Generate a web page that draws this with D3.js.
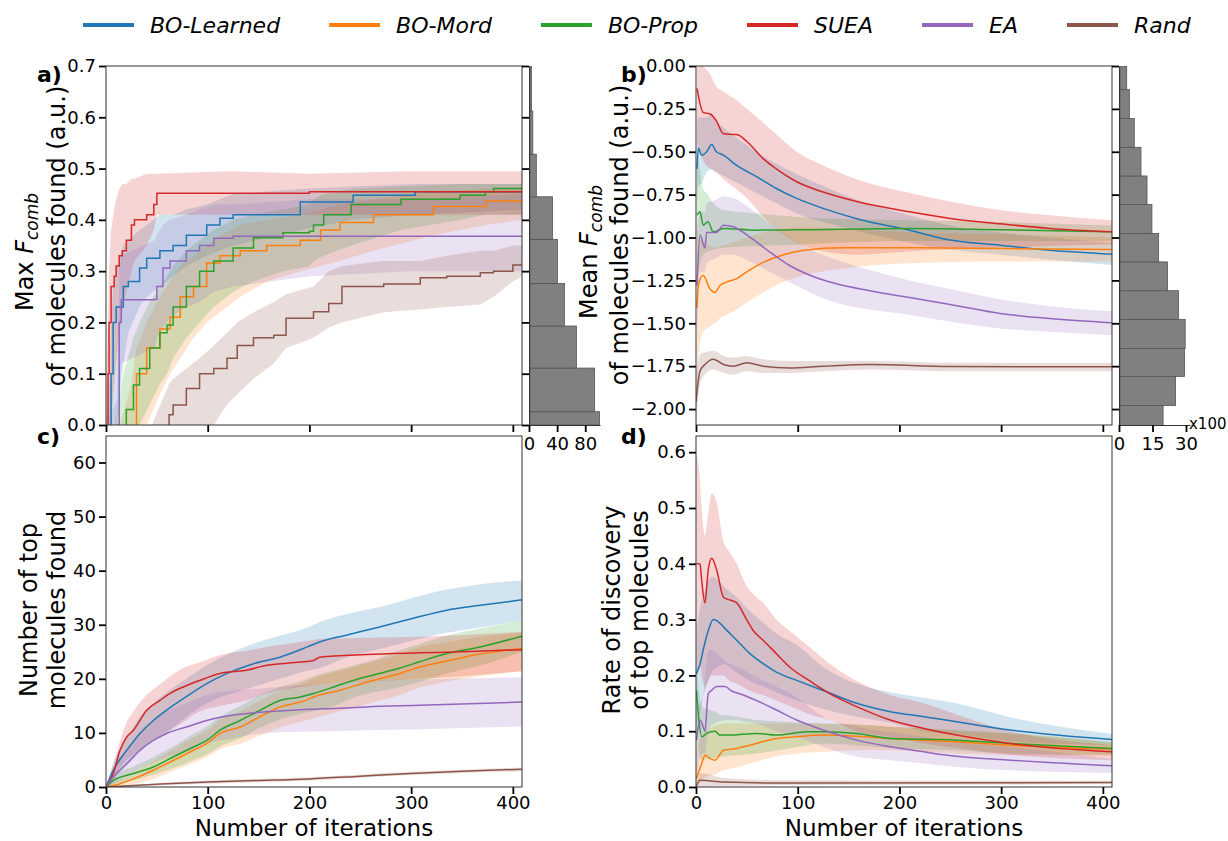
<!DOCTYPE html>
<html>
<head>
<meta charset="utf-8">
<script src="https://cdn.jsdelivr.net/npm/d3@7"></script>
<style>
  body { margin: 0; background: #fff; }
  svg text { font-family: "DejaVu Sans", sans-serif; fill: #000; }
</style>
</head>
<body>
<svg id="chart" width="1228" height="841"></svg>
<script>
// methods and colours (matplotlib tab10)
const methods = ["BO-Learned", "BO-Mord", "BO-Prop", "SUEA", "EA", "Rand"];
const colors = ["#1f77b4", "#ff7f0e", "#2ca02c", "#d62728", "#9467bd", "#8c564b"];

// tick labels
const iterTicks = [0, 100, 200, 300, 400];
const maxTicks = [0, 0.1, 0.2, 0.3, 0.4, 0.5, 0.6, 0.7];
const meanTicks = [0, -0.25, -0.5, -0.75, -1, -1.25, -1.5, -1.75, -2];
const topTicks = [0, 10, 20, 30, 40, 50, 60];
const rateTicks = [0, 0.1, 0.2, 0.3, 0.4, 0.5, 0.6];
const histATicks = [0, 40, 80];
const histBTicks = [0, 15, 30];

// rows: [iteration, mean, lower, upper]
// a) Max F_comb of molecules found
const maxBOLearned = [[0,-0.1,-0.3,0],[4,-0.02,-0.2,0.1],[5,0.1,-0.1,0.2],[7,0.2,-0.05,0.27],[10,0.23,0,0.3],[17,0.27,0.12,0.35],[22,0.28,0.18,0.36],[33,0.306,0.23,0.38],[40,0.325,0.25,0.39],[53,0.34,0.27,0.41],[66,0.35,0.29,0.41],[79,0.37,0.31,0.42],[99,0.39,0.33,0.43],[112,0.403,0.34,0.44],[125,0.41,0.35,0.45],[191,0.435,0.38,0.46],[243,0.448,0.4,0.465],[304,0.455,0.41,0.47],[409,0.455,0.42,0.47]];
const maxBOMord = [[0,-0.3,-0.5,-0.1],[25,-0.01,-0.15,0.08],[30,0.1,-0.05,0.15],[40,0.15,0,0.2],[53,0.187,0.06,0.25],[63,0.21,0.1,0.28],[73,0.25,0.13,0.31],[86,0.27,0.17,0.33],[99,0.316,0.2,0.35],[112,0.33,0.22,0.37],[132,0.34,0.25,0.39],[158,0.35,0.28,0.4],[191,0.36,0.3,0.41],[211,0.38,0.31,0.42],[230,0.395,0.32,0.43],[263,0.41,0.34,0.44],[322,0.426,0.37,0.455],[374,0.437,0.39,0.46],[409,0.437,0.4,0.46]];
const maxBOProp = [[0,-0.3,-0.5,-0.1],[17,-0.01,-0.2,0.1],[20,0.03,-0.1,0.12],[27,0.078,-0.05,0.17],[33,0.11,0,0.2],[43,0.15,0.04,0.24],[53,0.18,0.08,0.27],[60,0.195,0.1,0.29],[66,0.23,0.13,0.31],[79,0.27,0.17,0.34],[92,0.3,0.2,0.36],[106,0.32,0.23,0.38],[125,0.345,0.26,0.4],[145,0.365,0.28,0.41],[174,0.375,0.3,0.42],[200,0.378,0.31,0.43],[204,0.39,0.32,0.44],[214,0.41,0.33,0.45],[241,0.43,0.35,0.46],[290,0.44,0.38,0.465],[348,0.448,0.4,0.47],[373,0.455,0.41,0.47],[381,0.461,0.41,0.47],[409,0.461,0.41,0.47]];
const maxSUEA = [[0,-0.05,-0.3,0.05],[2,0.1,-0.2,0.22],[3,0.2,-0.1,0.3],[5,0.27,0,0.38],[8,0.29,0.08,0.42],[10,0.31,0.12,0.44],[13,0.33,0.18,0.46],[16,0.34,0.22,0.47],[20,0.36,0.26,0.47],[25,0.39,0.3,0.48],[28,0.4,0.32,0.48],[40,0.41,0.35,0.49],[47,0.43,0.38,0.49],[50,0.452,0.41,0.49],[120,0.452,0.41,0.495],[200,0.455,0.41,0.49],[300,0.455,0.41,0.495],[409,0.455,0.41,0.495]];
const maxEA = [[0,-0.2,-0.4,0],[11,-0.02,-0.2,0.05],[13,0.2,0.05,0.3],[15,0.244,0.12,0.33],[48,0.245,0.15,0.36],[50,0.27,0.17,0.37],[56,0.306,0.19,0.39],[63,0.32,0.21,0.4],[79,0.34,0.23,0.41],[92,0.35,0.24,0.42],[106,0.364,0.26,0.43],[125,0.368,0.27,0.43],[200,0.368,0.29,0.44],[300,0.368,0.3,0.44],[409,0.368,0.3,0.45]];
const maxRand = [[0,-0.5,-0.7,-0.3],[45,-0.1,-0.3,0],[60,-0.01,-0.15,0.07],[62,0.02,-0.12,0.08],[66,0.039,-0.1,0.09],[79,0.071,-0.05,0.11],[92,0.1,-0.02,0.13],[106,0.11,0,0.155],[119,0.13,0.04,0.18],[129,0.155,0.06,0.2],[145,0.17,0.09,0.22],[165,0.175,0.12,0.24],[177,0.208,0.15,0.255],[204,0.221,0.17,0.27],[219,0.237,0.19,0.3],[232,0.27,0.2,0.31],[273,0.275,0.22,0.32],[309,0.287,0.225,0.32],[335,0.29,0.23,0.33],[368,0.297,0.235,0.34],[381,0.3,0.25,0.34],[400,0.312,0.28,0.35],[409,0.315,0.29,0.35]];

// b) Mean F_comb of molecules found
const meanBOLearned = [[1,-0.6,-0.8,-0.35],[2.3,-0.48,-0.7,-0.3],[5.6,-0.52,-0.68,-0.3],[10.5,-0.5,-0.62,-0.3],[15.4,-0.457,-0.6,-0.28],[20,-0.5,-0.62,-0.32],[27,-0.52,-0.64,-0.36],[40,-0.58,-0.68,-0.42],[59.5,-0.645,-0.74,-0.5],[79,-0.714,-0.8,-0.57],[99,-0.772,-0.86,-0.63],[125,-0.83,-0.91,-0.7],[158,-0.89,-0.96,-0.78],[210,-0.957,-1.03,-0.87],[250,-1.015,-1.07,-0.93],[299,-1.045,-1.1,-0.97],[348,-1.074,-1.13,-1],[409,-1.097,-1.16,-1.03]];
const meanBOMord = [[1,-1.41,-2,-0.95],[2.3,-1.28,-1.7,-1],[7,-1.22,-1.55,-1.02],[13.8,-1.3,-1.52,-1.05],[18.7,-1.32,-1.5,-1.06],[23.6,-1.28,-1.47,-1.05],[30,-1.26,-1.45,-1.04],[40,-1.24,-1.42,-1.02],[49.8,-1.2,-1.38,-1],[66,-1.145,-1.32,-0.97],[86,-1.1,-1.26,-0.95],[106,-1.074,-1.22,-0.94],[145,-1.06,-1.18,-0.95],[210,-1.06,-1.15,-0.97],[300,-1.064,-1.14,-0.98],[409,-1.07,-1.14,-1]];
const meanBOProp = [[1,-0.87,-1.25,-0.5],[3.9,-0.85,-1.15,-0.6],[7,-0.928,-1.1,-0.72],[11.8,-0.908,-1.08,-0.75],[17,-0.967,-1.07,-0.8],[27,-0.947,-1.06,-0.84],[59.5,-0.957,-1.05,-0.86],[100,-0.955,-1.04,-0.88],[210,-0.947,-1.02,-0.9],[300,-0.955,-1.02,-0.91],[409,-0.967,-1.02,-0.93]];
const meanSUEA = [[1,-0.13,-0.45,0.05],[7,-0.27,-0.55,0],[14,-0.28,-0.6,-0.05],[20,-0.32,-0.62,-0.12],[27,-0.395,-0.66,-0.15],[40,-0.4,-0.72,-0.2],[50,-0.44,-0.77,-0.25],[66,-0.54,-0.88,-0.33],[79,-0.6,-0.95,-0.4],[99,-0.675,-1.03,-0.5],[125,-0.735,-1.08,-0.58],[158,-0.79,-1.1,-0.66],[210,-0.85,-1.08,-0.74],[250,-0.889,-1.07,-0.79],[299,-0.92,-1.06,-0.84],[348,-0.947,-1.05,-0.87],[409,-0.967,-1.04,-0.9]];
const meanEA = [[1,-1.28,-1.6,-0.95],[3.9,-0.986,-1.2,-0.85],[8.8,-1.06,-1.2,-0.85],[10.5,-0.97,-1.15,-0.8],[20,-0.97,-1.12,-0.78],[27,-0.928,-1.1,-0.76],[36.7,-0.937,-1.1,-0.77],[53,-0.997,-1.14,-0.83],[72.7,-1.085,-1.2,-0.92],[92,-1.163,-1.26,-1],[112,-1.22,-1.32,-1.07],[138,-1.27,-1.38,-1.13],[171,-1.31,-1.42,-1.19],[210,-1.35,-1.45,-1.25],[250,-1.39,-1.49,-1.3],[299,-1.443,-1.53,-1.36],[348,-1.472,-1.55,-1.4],[409,-1.497,-1.57,-1.43]];
const meanRand = [[0,-1.957,-2.1,-1.8],[3.9,-1.78,-1.86,-1.68],[8.8,-1.74,-1.8,-1.67],[17,-1.709,-1.77,-1.66],[27,-1.74,-1.79,-1.69],[36.7,-1.75,-1.8,-1.7],[49.8,-1.73,-1.78,-1.69],[66,-1.75,-1.79,-1.71],[92,-1.76,-1.79,-1.72],[125,-1.75,-1.78,-1.72],[171,-1.74,-1.77,-1.72],[250,-1.752,-1.78,-1.73],[409,-1.754,-1.78,-1.73]];

// c) Number of top molecules found
const topBOLearned = [[0,0,0,0],[7.2,3.1,1.5,4.5],[20.4,6.8,4,9],[33.4,9.9,6.5,13],[46.5,12.3,8.5,15.5],[59.5,14.2,10,17.5],[79,16.7,13,20],[99,19.1,15.5,22.5],[119,21,17,24.5],[145,22.8,18.5,26.5],[171,24,20,28],[198,25.9,21.5,29.5],[210,26.8,22,30.5],[237,28.1,24,32],[269,29.6,25.5,33.3],[302,31.2,27.1,35],[335,32.7,28.5,36.5],[368,33.6,29.5,37.5],[409,34.6,30.8,38.2]];
const topBOMord = [[0,0,0,0],[13.8,0.6,0,1.5],[27,1.5,0.5,2.8],[46.5,3.1,1.5,4.8],[66,4.9,3,7],[86,6.8,4.5,9.2],[99,8,5.5,10.5],[112,9.9,7,12.5],[132,11.1,8,14],[151.6,13,9.5,16],[171,14.8,11,17.8],[191,15.7,12,19],[210,17,13,20.5],[230,17.9,14,21.5],[250,19,15,22.5],[269,20,16,23.5],[289,21,17,24.5],[302,21.8,18,25.5],[335,23.3,19.5,26.8],[368,24.6,20.5,27.8],[409,25.6,21.4,28.5]];
const topBOProp = [[0,0,0,0],[7.2,1.2,0.5,2],[27,2.5,1.2,3.8],[46.5,3.7,2.3,5.5],[66,5.55,3.5,7.5],[86,7.4,5,9.8],[99,8.6,6,11.2],[112,10.5,7.5,13],[132,12.3,9,15],[151.6,14.2,11,17],[171,16,12.5,18.5],[191,16.65,13.5,19.5],[204,17.3,14,20.5],[224,18.5,15,21.5],[243,19.7,16.5,22.5],[263,20.7,17.5,23.5],[289,22,18.5,25.3],[309,23.2,19.5,26.5],[335,24.7,21,28],[368,25.9,22.5,29.3],[409,27.9,25,30.8]];
const topSUEA = [[0,0,0,0],[7.2,2.5,1.2,4],[13.8,6.8,3.5,8.5],[20.4,9.25,5,12],[27,10.5,6,14],[40,14.2,8,17],[53,16,9.5,19],[63,17.3,10.5,20.5],[76,18.5,12,22],[92,19.7,14,23],[112,21,15,24.4],[138,21.6,16,25.2],[158,22.5,17.3,25.9],[191,23.1,18.5,26.8],[204,23.4,18.8,27.2],[210,24,19,27.4],[256,24.5,19.5,27.6],[309,24.8,20,27.8],[350,25,20.5,28.1],[409,25.4,21.4,28.7]];
const topEA = [[0,0,0,0],[7.2,1.85,0.5,3.5],[20.4,4.3,2,7],[33.4,6.8,3.5,10],[46.5,8.6,4.5,12.5],[59.5,9.9,5.5,14],[79,11.1,6.5,15.5],[99,12.3,8,17],[125,13.3,9,17.8],[158,13.9,10,18.3],[191,14.3,10.2,18.8],[224,14.5,10.3,19.2],[256,14.8,10.5,19.6],[309,15.1,10.7,19.9],[409,15.7,11.2,20.3]];
const topRand = [[0,0,0,0],[50,0.5,0.3,0.7],[100,0.93,0.6,1.2],[150,1.2,0.9,1.5],[200,1.5,1.2,1.8],[250,2,1.7,2.3],[300,2.5,2.2,2.8],[350,2.9,2.6,3.2],[409,3.3,2.9,3.6]];

// d) Rate of discovery of top molecules
const rateBOLearned = [[0.4,0.203,0.11,0.28],[3.9,0.22,0.13,0.32],[7,0.245,0.16,0.34],[12,0.28,0.19,0.37],[17,0.3,0.21,0.377],[22,0.296,0.215,0.37],[27,0.287,0.22,0.36],[40,0.263,0.205,0.34],[53,0.239,0.19,0.315],[66,0.221,0.18,0.295],[79,0.206,0.17,0.275],[99,0.191,0.155,0.255],[125,0.173,0.14,0.215],[158,0.15,0.126,0.185],[191,0.135,0.115,0.17],[224,0.126,0.1,0.16],[256,0.117,0.095,0.15],[309,0.102,0.082,0.125],[409,0.085,0.075,0.095]];
const rateBOMord = [[0.4,0.015,0,0.066],[5.6,0.042,0.01,0.09],[8.8,0.057,0.018,0.1],[13.8,0.051,0.02,0.105],[18.7,0.048,0.022,0.11],[27,0.066,0.03,0.114],[40,0.069,0.035,0.114],[53,0.075,0.042,0.114],[79,0.087,0.055,0.114],[99,0.09,0.06,0.114],[125,0.093,0.063,0.114],[158,0.091,0.066,0.112],[191,0.087,0.066,0.108],[224,0.084,0.063,0.105],[256,0.081,0.06,0.1],[309,0.075,0.057,0.096],[409,0.068,0.056,0.08]];
const rateBOProp = [[0.4,0.173,0.1,0.22],[2.3,0.13,0.07,0.18],[5.6,0.09,0.048,0.144],[10.5,0.096,0.05,0.14],[18.7,0.1,0.052,0.135],[23.6,0.093,0.054,0.13],[33.4,0.093,0.056,0.128],[59.5,0.096,0.06,0.12],[79,0.093,0.065,0.118],[109,0.099,0.075,0.115],[125,0.099,0.078,0.114],[158,0.096,0.075,0.112],[191,0.087,0.07,0.108],[256,0.084,0.066,0.102],[309,0.078,0.06,0.096],[409,0.069,0.058,0.08]];
const rateSUEA = [[0.4,0.4,0.2,0.6],[3.9,0.4,0.22,0.55],[5.6,0.37,0.2,0.5],[8.8,0.33,0.18,0.45],[12,0.389,0.19,0.49],[15.4,0.41,0.2,0.526],[20.3,0.389,0.2,0.51],[27,0.34,0.2,0.44],[33.4,0.335,0.19,0.42],[40,0.33,0.185,0.4],[49.8,0.3,0.175,0.36],[56.4,0.28,0.17,0.345],[66,0.263,0.165,0.33],[79,0.239,0.155,0.3],[92,0.215,0.145,0.28],[112,0.19,0.13,0.25],[132,0.167,0.12,0.22],[158,0.144,0.1,0.19],[191,0.12,0.09,0.165],[224,0.105,0.078,0.15],[256,0.093,0.07,0.13],[309,0.078,0.058,0.1],[409,0.063,0.048,0.075]];
const rateEA = [[0.4,0.084,0,0.1],[3.9,0.12,0.05,0.15],[7,0.108,0.06,0.16],[8.8,0.1,0.06,0.2],[12,0.167,0.1,0.245],[15.4,0.173,0.11,0.245],[20.3,0.18,0.115,0.24],[28.6,0.18,0.12,0.225],[35,0.172,0.12,0.22],[46.5,0.165,0.118,0.21],[59.5,0.155,0.114,0.197],[79,0.138,0.1,0.18],[99,0.12,0.09,0.161],[125,0.102,0.072,0.126],[158,0.084,0.054,0.108],[191,0.072,0.048,0.098],[224,0.063,0.042,0.09],[256,0.055,0.036,0.08],[309,0.048,0.03,0.072],[409,0.038,0.025,0.05]];
const rateRand = [[0,0,0,0],[3.9,0.012,0,0.025],[27,0.009,0.002,0.016],[92,0.007,0.003,0.012],[409,0.008,0.005,0.011]];

// marginal histograms
const histAEdges = [0, 0.026, 0.111, 0.193, 0.276, 0.362, 0.445, 0.528, 0.612, 0.699];
const histACounts = [99, 92, 66, 49, 39, 32, 9, 4, 2];
const histBEdges = [-2.097, -1.98, -1.81, -1.646, -1.477, -1.31, -1.142, -0.976, -0.808, -0.641, -0.474, -0.306, -0.137, 0];
const histBCountsX100 = [19.3, 24.9, 28.9, 29.2, 26.2, 21.3, 17.3, 14.3, 12.1, 9.4, 6.4, 4.2, 3.0];

const svg = d3.select("#chart");
const xMaxIter = 409;

function styleAxis(g, fontSize) {
  g.attr("font-family", "DejaVu Sans").attr("font-size", fontSize);
  g.selectAll(".tick line").attr("stroke", "#000").attr("stroke-width", 1.8);
  g.selectAll(".tick text").attr("fill", "#000");
}

function drawPanel(p) {
  const g = svg.append("g").attr("transform", "translate(" + p.left + "," + p.top + ")");
  const x = d3.scaleLinear().domain([0, xMaxIter]).range([0, p.width]);
  const y = d3.scaleLinear().domain(p.yDomain).range([p.height, 0]);

  g.append("clipPath").attr("id", "clip-" + p.key)
    .append("rect").attr("width", p.width).attr("height", p.height);
  const plot = g.append("g").attr("clip-path", "url(#clip-" + p.key + ")");

  const area = d3.area()
    .x(d => x(d[0])).y0(d => y(d[2])).y1(d => y(d[3]))
    .curve(p.bandCurve);
  const line = d3.line()
    .x(d => x(d[0])).y(d => y(d[1]))
    .curve(p.lineCurve);

  p.series.forEach((rows, i) => {
    plot.append("path").datum(rows)
      .attr("fill", colors[i]).attr("fill-opacity", 0.2)
      .attr("d", area);
  });
  p.series.forEach((rows, i) => {
    plot.append("path").datum(rows)
      .attr("fill", "none").attr("stroke", colors[i]).attr("stroke-width", 1.5)
      .attr("d", line);
  });

  const yAxis = d3.axisLeft(y).tickValues(p.yTicks).tickFormat(p.fmt)
    .tickSize(7).tickPadding(3);
  const gy = g.append("g").call(yAxis);
  gy.select(".domain").remove();
  styleAxis(gy, 18);

  const xAxis = d3.axisBottom(x).tickValues(iterTicks).tickSize(7).tickPadding(2);
  if (!p.xLabels) xAxis.tickFormat("");
  const gx = g.append("g").attr("transform", "translate(0," + p.height + ")").call(xAxis);
  gx.select(".domain").remove();
  styleAxis(gx, 18);

  g.append("rect").attr("width", p.width).attr("height", p.height)
    .attr("fill", "none").attr("stroke", "#333").attr("stroke-width", 1);

  if (p.xLabels) {
    g.append("text").attr("x", p.width / 2).attr("y", p.height + 48.5)
      .attr("text-anchor", "middle").attr("font-size", 23)
      .text("Number of iterations");
  }
  return { g, x, y };
}

function drawHist(p, y, left, edges, counts, xMax, ticks, offsetText) {
  const w = 71;
  const g = svg.append("g").attr("transform", "translate(" + left + "," + p.top + ")");
  const hx = d3.scaleLinear().domain([0, xMax]).range([0, w]);
  g.append("clipPath").attr("id", "hclip-" + p.key)
    .append("rect").attr("width", w + 10).attr("height", p.height);
  g.append("g").attr("clip-path", "url(#hclip-" + p.key + ")")
    .selectAll("rect").data(counts).join("rect")
    .attr("x", hx(0) + 1)
    .attr("y", (c, i) => y(edges[i + 1]))
    .attr("width", c => hx(c))
    .attr("height", (c, i) => y(edges[i]) - y(edges[i + 1]))
    .attr("fill", "#808080").attr("stroke", "#555").attr("stroke-width", 0.8);

  const gy = g.append("g")
    .call(d3.axisLeft(y).tickValues(p.yTicks).tickFormat("").tickSize(7).tickSizeOuter(0));
  gy.select(".domain").attr("stroke", "#333");
  styleAxis(gy, 18);

  const gx = g.append("g").attr("transform", "translate(0," + p.height + ")")
    .call(d3.axisBottom(hx).tickValues(ticks).tickSize(7).tickSizeOuter(0).tickPadding(5));
  gx.select(".domain").attr("stroke", "#333");
  styleAxis(gx, 18);

  if (offsetText) {
    g.append("text").attr("x", hx(30) + 3).attr("y", p.height + 4)
      .attr("font-size", 15).text(offsetText);
  }
}

const panelA = {
  key: "a", left: 106, top: 66, width: 416, height: 359,
  yDomain: [0, 0.7], yTicks: maxTicks, fmt: d3.format(".1f"),
  series: [maxBOLearned, maxBOMord, maxBOProp, maxSUEA, maxEA, maxRand],
  lineCurve: d3.curveStepAfter, bandCurve: d3.curveLinear, xLabels: false
};
const panelB = {
  key: "b", left: 696, top: 66, width: 416, height: 359,
  yDomain: [-2.093, 0], yTicks: meanTicks, fmt: d3.format(".2f"),
  series: [meanBOLearned, meanBOMord, meanBOProp, meanSUEA, meanEA, meanRand],
  lineCurve: d3.curveMonotoneX, bandCurve: d3.curveMonotoneX, xLabels: false
};
const panelC = {
  key: "c", left: 106, top: 436, width: 416, height: 351,
  yDomain: [0, 64.9], yTicks: topTicks, fmt: d3.format("d"),
  series: [topBOLearned, topBOMord, topBOProp, topSUEA, topEA, topRand],
  lineCurve: d3.curveMonotoneX, bandCurve: d3.curveMonotoneX, xLabels: true
};
const panelD = {
  key: "d", left: 696, top: 436, width: 416, height: 351,
  yDomain: [0, 0.629], yTicks: rateTicks, fmt: d3.format(".1f"),
  series: [rateBOLearned, rateBOMord, rateBOProp, rateSUEA, rateEA, rateRand],
  lineCurve: d3.curveMonotoneX, bandCurve: d3.curveMonotoneX, xLabels: true
};

const a = drawPanel(panelA);
const b = drawPanel(panelB);
drawPanel(panelC);
drawPanel(panelD);

drawHist(panelA, a.y, 529, histAEdges, histACounts, 101, histATicks, null);
drawHist(panelB, b.y, 1119, histBEdges, histBCountsX100, 31.8, histBTicks, "x100");

// panel letters
[["a)", 37, 82], ["b)", 621, 82], ["c)", 37, 444], ["d)", 621, 444]].forEach(l => {
  svg.append("text").attr("x", l[1]).attr("y", l[2])
    .attr("font-size", 22).attr("font-weight", "bold").text(l[0]);
});

// y labels (rotated, two lines)
function yLabel(x, cy, parts) {
  const t = svg.append("text")
    .attr("transform", "translate(" + x + "," + cy + ") rotate(-90)")
    .attr("text-anchor", "middle").attr("font-size", 24);
  parts.forEach(pt => {
    const s = t.append("tspan").text(pt.text);
    if (pt.italic) s.attr("font-style", "italic");
    if (pt.sub) s.attr("font-size", 17).attr("dy", 5);
  });
}
yLabel(33, 252, [{ text: "Max " }, { text: "F", italic: true }, { text: "comb", italic: true, sub: true }]);
yLabel(65, 236, [{ text: "of molecules found (a.u.)" }]);
yLabel(597, 252, [{ text: "Mean " }, { text: "F", italic: true }, { text: "comb", italic: true, sub: true }]);
yLabel(628, 235, [{ text: "of molecules found (a.u.)" }]);
yLabel(37, 610, [{ text: "Number of top" }]);
yLabel(65, 610, [{ text: "molecules found" }]);
yLabel(620, 610, [{ text: "Rate of discovery" }]);
yLabel(648, 610, [{ text: "of top molecules" }]);

// legend
const legend = svg.append("g").attr("transform", "translate(83,25)");
let lx = 0;
methods.forEach((m, i) => {
  legend.append("line").attr("x1", lx).attr("x2", lx + 51).attr("y1", 0).attr("y2", 0)
    .attr("stroke", colors[i]).attr("stroke-width", 4);
  const t = legend.append("text").attr("x", lx + 67).attr("y", 8)
    .attr("font-size", 22).attr("font-style", "italic").text(m);
  lx += 67 + t.node().getComputedTextLength() + 49;
});
</script>
</body>
</html>
